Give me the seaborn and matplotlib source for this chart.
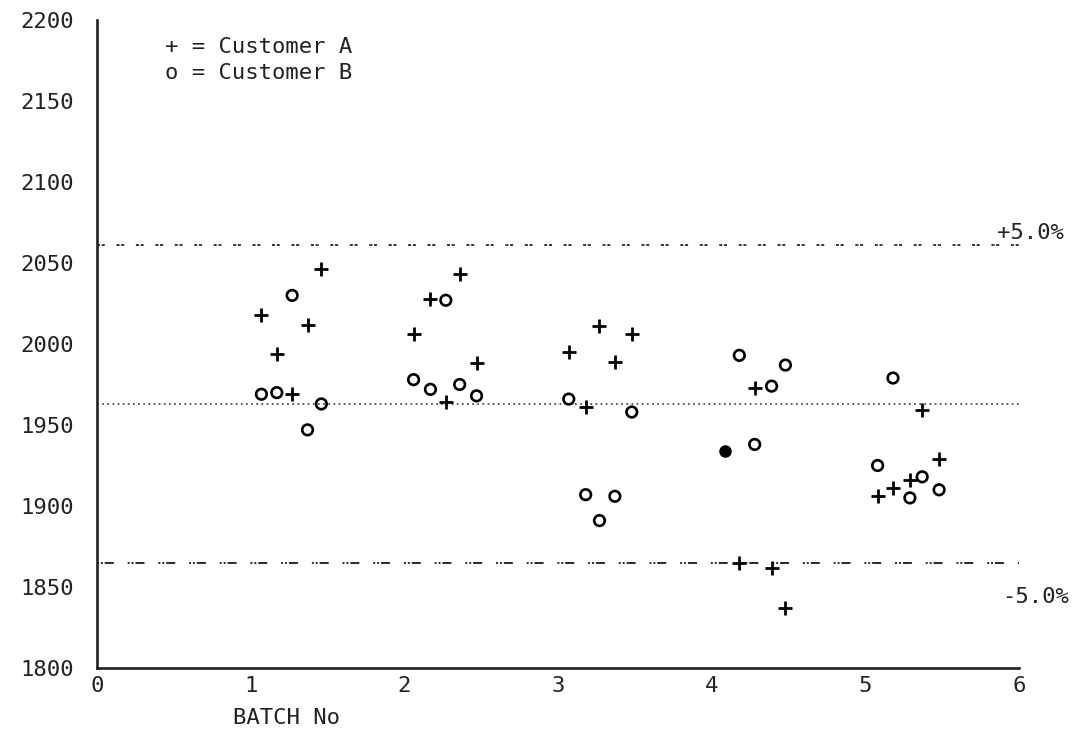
import matplotlib
matplotlib.use("Agg")
import matplotlib.pyplot as plt
import seaborn as sns
import pandas as pd

# ---- data ----
batch_x = [1.07, 1.17, 1.27, 1.37, 1.46,
           2.06, 2.17, 2.27, 2.36, 2.47,
           3.07, 3.18, 3.27, 3.37, 3.48,
           4.09, 4.18, 4.28, 4.39, 4.48,
           5.08, 5.18, 5.29, 5.37, 5.48]
customer_a = [2018, 1994, 1969, 2012, 2046,
              2006, 2028, 1964, 2043, 1988,
              1995, 1961, 2011, 1989, 2006,
              1934, 1865, 1973, 1862, 1837,
              1906, 1911, 1916, 1959, 1929]
customer_b = [1969, 1970, 2030, 1947, 1963,
              1978, 1972, 2027, 1975, 1968,
              1966, 1907, 1891, 1906, 1958,
              1934, 1993, 1938, 1974, 1987,
              1925, 1979, 1905, 1918, 1910]
target = 1963
tol_pct = 5.0
x_ticks = [0, 1, 2, 3, 4, 5, 6]
y_ticks = [1800, 1850, 1900, 1950, 2000, 2050, 2100, 2150, 2200]
legend_lines = ["+ = Customer A", "o = Customer B"]
x_label = "BATCH No"

# ---- style ----
sns.set_theme(style="white")
plt.rcParams["font.family"] = ["DejaVu Sans Mono", "DejaVu Sans"]
plt.rcParams["lines.scale_dashes"] = False
ink = "#222222"
fs = 16

fig = plt.figure(figsize=(10.85, 7.36), dpi=100)
ax = fig.add_axes([97 / 1085, 1 - 668 / 736, 922 / 1085, 648 / 736])

df = pd.DataFrame({"batch": batch_x, "A": customer_a, "B": customer_b})
same = df["A"] == df["B"]

sns.scatterplot(data=df[~same], x="batch", y="A", marker="+", s=95,
                color="black", linewidth=2.0, ax=ax, zorder=3)
sns.scatterplot(data=df[~same], x="batch", y="B", marker="o", s=58,
                facecolor="none", edgecolor="black", linewidth=1.9, ax=ax, zorder=3)
sns.scatterplot(data=df[same], x="batch", y="A", marker="o", s=64,
                color="black", edgecolor="black", linewidth=1.0, ax=ax, zorder=3)

upper = target * (1 + tol_pct / 100)
lower = target * (1 - tol_pct / 100)
ax.axhline(upper, color="#2a2a2a", lw=1.3, linestyle=(0, (2.2, 1.2, 2.2, 8.4)), zorder=1)
ax.axhline(target, color="#333333", lw=1.1, linestyle=(0, (1.3, 2.4)), zorder=1)
ax.axhline(lower, color="#2a2a2a", lw=1.4,
           linestyle=(0, (1.4, 1.4, 1.4, 1.4, 6.5, 10)), zorder=1)

ax.text(5.86, upper + 7.5, f"+{tol_pct:.1f}%", fontsize=fs, color=ink,
        ha="left", va="center", clip_on=False)
ax.text(5.89, lower - 21, f"-{tol_pct:.1f}%", fontsize=fs, color=ink,
        ha="left", va="center", clip_on=False)

ax.set_xlim(x_ticks[0], x_ticks[-1])
ax.set_ylim(y_ticks[0], y_ticks[-1])
ax.set_xticks(x_ticks)
ax.set_yticks(y_ticks)
ax.set_xticklabels([str(t) for t in x_ticks])
ax.set_yticklabels([str(t) for t in y_ticks])
ax.tick_params(axis="both", direction="in", length=7, width=1.6, colors=ink,
               labelsize=fs)
ax.tick_params(axis="y", pad=17)
ax.tick_params(axis="x", pad=6)
ax.set_xlabel("")
ax.set_ylabel("")

for side in ["top", "right"]:
    ax.spines[side].set_visible(False)
for side in ["left", "bottom"]:
    ax.spines[side].set_color(ink)
    ax.spines[side].set_linewidth(1.9)

ax.text(0.1475, -0.077, x_label, transform=ax.transAxes, fontsize=fs,
        color=ink, ha="left", va="center", clip_on=False)

for i, line in enumerate(legend_lines):
    ax.text(0.0738, 0.958 - i * 0.040, line, transform=ax.transAxes,
            fontsize=fs, color=ink, ha="left", va="center")

fig.savefig("out.png", dpi=100, facecolor="white")
